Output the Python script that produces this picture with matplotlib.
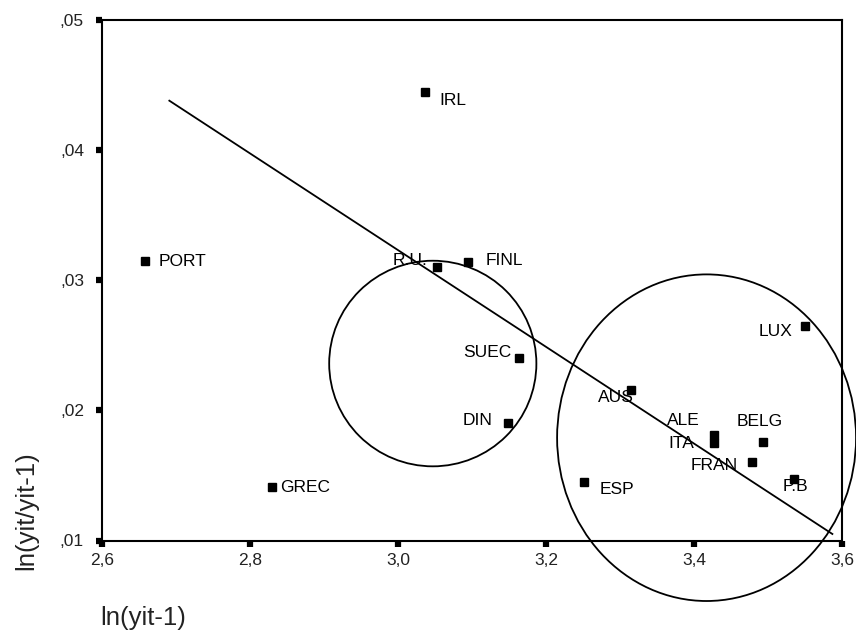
import matplotlib
matplotlib.use('Agg')
import matplotlib.pyplot as plt
from matplotlib.patches import Ellipse

plt.rcParams['font.family'] = ['Liberation Sans', 'DejaVu Sans']

# data
countries = ['IRL', 'PORT', 'R.U.', 'FINL', 'SUEC', 'DIN', 'GREC', 'ESP',
             'AUS', 'ALE', 'ITA', 'BELG', 'FRAN', 'P.B', 'LUX']
ln_y_prev = [3.037, 2.658, 3.053, 3.094, 3.164, 3.148, 2.830, 3.251,
             3.315, 3.427, 3.427, 3.493, 3.478, 3.535, 3.550]
growth = [0.0445, 0.0315, 0.0310, 0.0314, 0.0240, 0.0190, 0.0141, 0.0145,
          0.0216, 0.0181, 0.0175, 0.0176, 0.0160, 0.0147, 0.0265]

# fitted line end points
fit_x = [2.691, 3.587]
fit_y = [0.0438, 0.0105]

# groups circled by hand: centre x, centre y, width, height
groups_cx = [3.047, 3.417]
groups_cy = [0.0236, 0.0179]
groups_w = [0.280, 0.404]
groups_h = [0.0158, 0.0251]

xticks = [2.6, 2.8, 3.0, 3.2, 3.4, 3.6]
xticklabels = ['2,6', '2,8', '3,0', '3,2', '3,4', '3,6']
yticks = [0.01, 0.02, 0.03, 0.04, 0.05]
yticklabels = [',01', ',02', ',03', ',04', ',05']

# label placement (pixels offset from marker, alignment)
label_pos = {
    'IRL': (14, -13, 'left'), 'PORT': (14, -5, 'left'), 'R.U.': (-10, 2, 'right'),
    'FINL': (18, -3, 'left'), 'SUEC': (-8, 1, 'right'), 'DIN': (-15, -2, 'right'),
    'GREC': (8, -5, 'left'), 'ESP': (16, -12, 'left'), 'AUS': (3, -12, 'right'),
    'ALE': (-14, 10, 'right'), 'ITA': (-20, -5, 'right'), 'BELG': (-26, 16, 'left'),
    'FRAN': (-14, -8, 'right'), 'P.B': (-11, -12, 'left'), 'LUX': (-12, -10, 'right'),
}

W, H = 856, 631
fig = plt.figure(figsize=(W / 100, H / 100), dpi=100)
ax = fig.add_axes([102 / W, 1 - 540.5 / H, (842 - 102) / W, (540.5 - 20) / H])

ax.plot(ln_y_prev, growth, 's', color='black', markersize=6, zorder=3)
ax.plot(fit_x, fit_y, color='black', linewidth=1.3)

for cx, cy, w, h in zip(groups_cx, groups_cy, groups_w, groups_h):
    ax.add_patch(Ellipse((cx, cy), w, h, fill=False, edgecolor='black',
                         linewidth=1.3, clip_on=False))

for name, x, y in zip(countries, ln_y_prev, growth):
    dx, dy, ha = label_pos[name]
    ax.annotate(name, (x, y), xytext=(dx, dy), textcoords='offset pixels',
                ha=ha, va='baseline', fontsize=12.5)

ax.set_xlim(2.6, 3.6)
ax.set_ylim(0.01, 0.05)
ax.set_xticks(xticks)
ax.set_xticklabels(xticklabels)
ax.set_yticks(yticks)
ax.set_yticklabels(yticklabels)
ax.tick_params(direction='out', length=4, width=4.5, labelsize=12.5,
               labelcolor='#222222')
ax.tick_params(axis='y', pad=9)
ax.tick_params(axis='x', pad=5)
for sp in ax.spines.values():
    sp.set_linewidth(1.5)

fig.text(100 / W, 1 - 618 / H, 'ln(yit-1)', ha='left', va='center',
         fontsize=18.5, color='#222222')
fig.text(26 / W, 1 - 570 / H, 'ln(yit/yit-1)', ha='center', va='bottom',
         rotation=90, fontsize=18.5, color='#222222')

fig.savefig('out.png', dpi=100, facecolor='white')
